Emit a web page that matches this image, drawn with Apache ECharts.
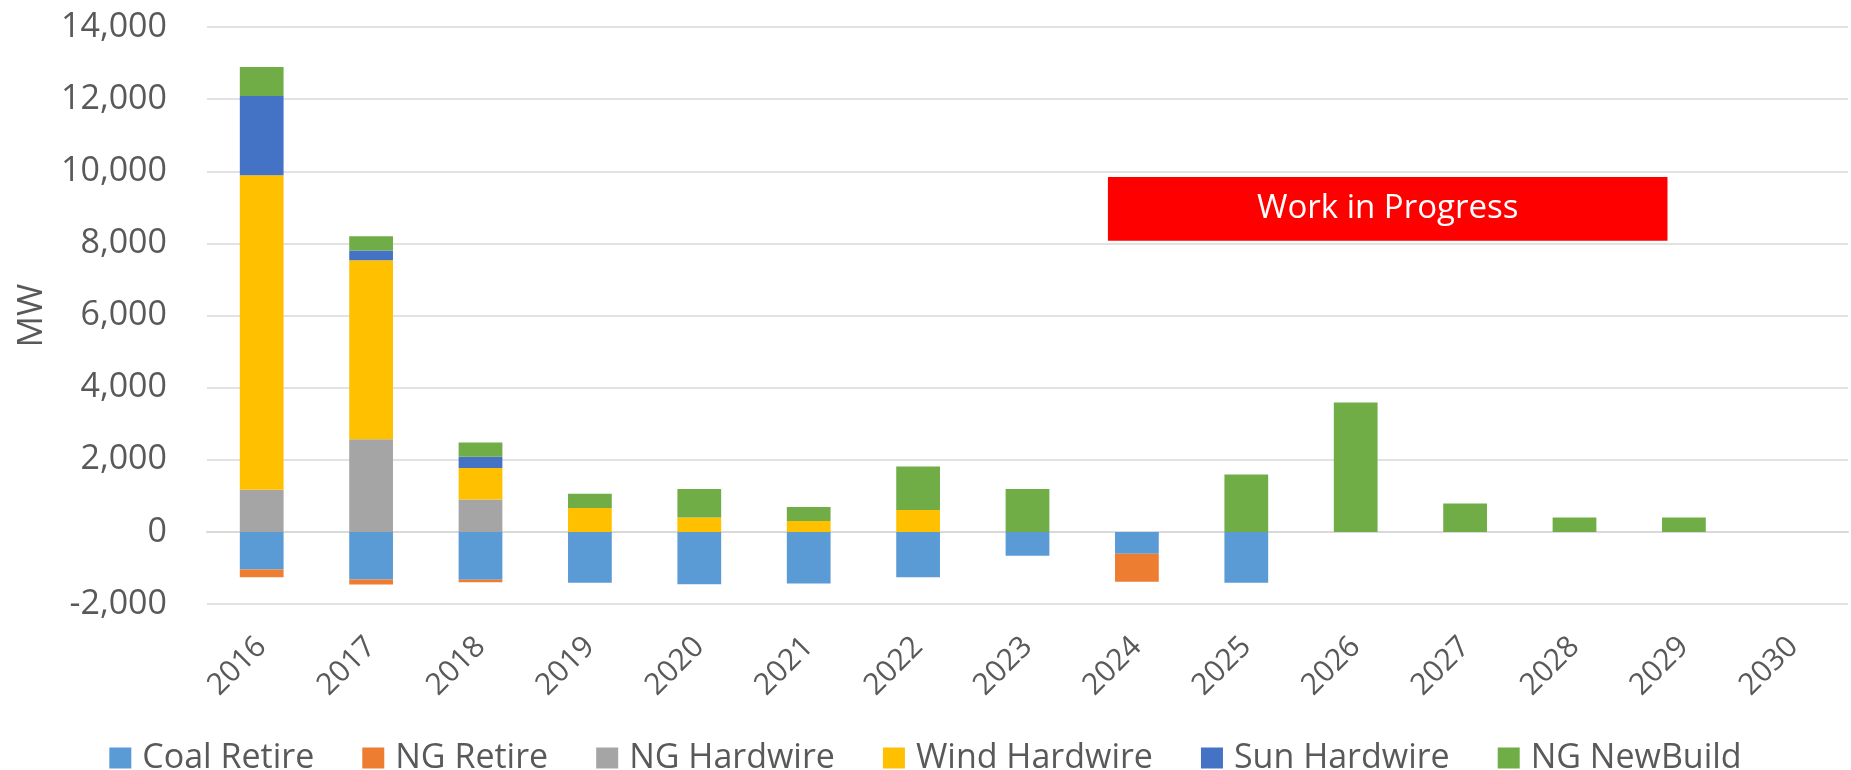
<!DOCTYPE html>
<html>
<head>
<meta charset="utf-8">
<script src="https://cdn.jsdelivr.net/npm/echarts@6/dist/echarts.min.js"></script>
<style>
  html, body { margin: 0; padding: 0; background: #fff; }
  #chart { width: 1851px; height: 770px; }
</style>
</head>
<body>
<div id="chart"></div>
<script>
const categories = ['2016','2017','2018','2019','2020','2021','2022','2023','2024','2025','2026','2027','2028','2029','2030'];
const coalRetire   = [-1040, -1320, -1330, -1410, -1450, -1430, -1260, -660, -610, -1410, 0, 0, 0, 0, 0];
const ngRetire     = [-220, -140, -70, 0, 0, 0, 0, 0, -770, 0, 0, 0, 0, 0, 0];
const ngHardwire   = [1170, 2570, 900, 0, 0, 0, 0, 0, 0, 0, 0, 0, 0, 0, 0];
const windHardwire = [8720, 4960, 870, 660, 400, 300, 610, 0, 0, 0, 0, 0, 0, 0, 0];
const sunHardwire  = [2200, 270, 310, 0, 0, 0, 0, 0, 0, 0, 0, 0, 0, 0, 0];
const ngNewBuild   = [800, 400, 400, 400, 790, 390, 1200, 1190, 0, 1590, 3590, 790, 400, 400, 0];
const yTicks = [-2000, 0, 2000, 4000, 6000, 8000, 10000, 12000, 14000];
// annotation box: [xStartIndex, xEndIndex, yLow, yHigh, label]
const wipNote = [[7.735, 12.85, 8070, 9840, 'Work in Progress']];

const FONT = '"Open Sans", "Liberation Sans", sans-serif';
const TXT = '#595959';
const colors = {
  'Coal Retire': '#5B9BD5',
  'NG Retire': '#ED7D31',
  'NG Hardwire': '#A5A5A5',
  'Wind Hardwire': '#FFC000',
  'Sun Hardwire': '#4472C4',
  'NG NewBuild': '#70AD47'
};
const seriesDefs = [
  ['Coal Retire', coalRetire],
  ['NG Retire', ngRetire],
  ['NG Hardwire', ngHardwire],
  ['Wind Hardwire', windHardwire],
  ['Sun Hardwire', sunHardwire],
  ['NG NewBuild', ngNewBuild]
];

const chart = echarts.init(document.getElementById('chart'), null, { renderer: 'canvas' });

const barSeries = seriesDefs.map(([name, data]) => ({
  name: name,
  type: 'bar',
  stack: 'total',
  barWidth: '40%',
  xAxisIndex: 0,
  data: data,
  itemStyle: { color: colors[name] },
  emphasis: { disabled: true }
}));

const option = {
  animation: false,
  backgroundColor: '#fff',
  textStyle: { fontFamily: FONT },
  grid: { left: 207, right: 3, top: 27, bottom: 166, containLabel: false },
  legend: {
    data: seriesDefs.map(d => d[0]),
    left: 'center',
    top: 736,
    icon: 'rect',
    itemWidth: 22,
    itemHeight: 21,
    itemGap: 48,
    textStyle: { fontSize: 34, color: TXT, fontFamily: FONT, padding: [0, 0, 0, 6] }
  },
  xAxis: [
    {
      type: 'category',
      data: categories,
      axisLine: { onZero: true, lineStyle: { color: '#D9D9D9', width: 2 } },
      axisTick: { show: false },
      axisLabel: {
        interval: 0,
        rotate: 45,
        fontSize: 30,
        color: TXT,
        fontFamily: FONT,
        margin: 38
      },
      splitLine: { show: false }
    },
    {
      type: 'value',
      min: -0.5,
      max: 14.5,
      show: false
    }
  ],
  yAxis: {
    type: 'value',
    min: yTicks[0],
    max: yTicks[yTicks.length - 1],
    interval: 2000,
    name: 'MW',
    nameLocation: 'middle',
    nameGap: 157,
    nameTextStyle: { fontSize: 35, color: TXT, fontFamily: FONT },
    axisLine: { show: false },
    axisTick: { show: false },
    axisLabel: {
      fontSize: 34,
      color: TXT,
      fontFamily: FONT,
      margin: 40,
      formatter: v => v.toLocaleString('en-US')
    },
    splitLine: { lineStyle: { color: '#D9D9D9', width: 1.5 } }
  },
  series: barSeries.concat([
    {
      type: 'custom',
      name: 'note',
      xAxisIndex: 1,
      yAxisIndex: 0,
      silent: true,
      z: 10,
      data: wipNote,
      encode: { x: [0, 1], y: [2, 3] },
      renderItem: function (params, api) {
        const p0 = api.coord([api.value(0), api.value(3)]);
        const p1 = api.coord([api.value(1), api.value(2)]);
        return {
          type: 'group',
          children: [
            {
              type: 'rect',
              shape: { x: p0[0], y: p0[1], width: p1[0] - p0[0], height: p1[1] - p0[1] },
              style: { fill: '#FF0000' }
            },
            {
              type: 'text',
              style: {
                x: (p0[0] + p1[0]) / 2,
                y: (p0[1] + p1[1]) / 2,
                text: wipNote[params.dataIndex][4],
                fill: '#fff',
                font: '33px ' + FONT,
                align: 'center',
                verticalAlign: 'middle'
              }
            }
          ]
        };
      }
    }
  ])
};

chart.setOption(option);
</script>
</body>
</html>
